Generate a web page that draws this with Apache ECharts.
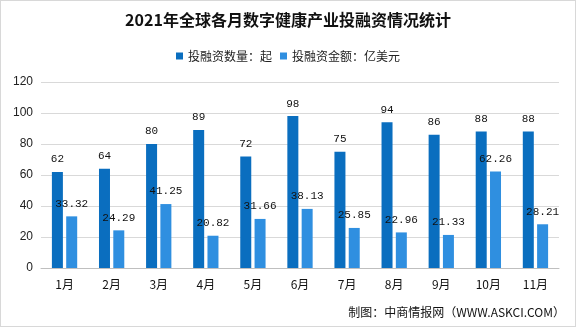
<!DOCTYPE html>
<html><head><meta charset="utf-8">
<script src="https://cdn.jsdelivr.net/npm/echarts@6/dist/echarts.min.js"></script>
<style>html,body{margin:0;padding:0;background:#fff}#c{width:576px;height:327px;box-sizing:border-box;border:1px solid #d8d8d8}</style>
</head><body><div id="c"></div>
<script>
var categories = ['1月','2月','3月','4月','5月','6月','7月','8月','9月','10月','11月'];
var dealCount = [62,64,80,89,72,98,75,94,86,88,88];
var dealAmount = [33.32,24.29,41.25,20.82,31.66,38.13,25.85,22.96,21.33,62.26,28.21];
var yTicks = [0,20,40,60,80,100,120];
var seriesNames = ['投融资数量：起','投融资金额：亿美元'];

var chart = echarts.init(document.getElementById('c'));
var labelStyle = {show:true, position:'top', distance:7, color:'#111', fontSize:11, fontFamily:'Liberation Mono, DejaVu Sans Mono, monospace'};
chart.setOption({
  animation:false,
  title:{text:'2021年全球各月数字健康产业投融资情况统计', left:'center', top:6,
    textStyle:{fontSize:16, fontWeight:'bold', color:'#111', fontFamily:'Noto Sans CJK SC'}},
  legend:{data:seriesNames, top:44, left:'center', itemWidth:7, itemHeight:7, itemGap:8, icon:'rect',
    textStyle:{fontSize:12, color:'#222', fontFamily:'Noto Sans CJK SC'}},
  grid:{left:40, right:16, top:81, bottom:58},
  xAxis:{type:'category', data:categories, axisTick:{show:false},
    axisLine:{lineStyle:{color:'#bfbfbf'}},
    axisLabel:{color:'#111', fontSize:12, margin:10, fontFamily:'Noto Sans CJK SC'}},
  yAxis:{type:'value', min:yTicks[0], max:yTicks[yTicks.length-1], interval:20,
    axisLine:{show:false}, axisTick:{show:false},
    splitLine:{lineStyle:{color:'#d9d9d9'}},
    axisLabel:{color:'#222', fontSize:12, margin:8, fontFamily:'Liberation Sans'}},
  series:[
    {name:seriesNames[0], type:'bar', data:dealCount, barWidth:11, barGap:'30%',
      itemStyle:{color:'#0a6ebf'}, label:labelStyle},
    {name:seriesNames[1], type:'bar', data:dealAmount, barWidth:11,
      itemStyle:{color:'#2f8fe0'}, label:labelStyle}
  ],
  graphic:[{type:'text', right:10, bottom:8, style:{text:'制图：中商情报网（WWW.ASKCI.COM）', fill:'#111', fontSize:12, fontFamily:'Noto Sans CJK SC'}}]
});
</script></body></html>
